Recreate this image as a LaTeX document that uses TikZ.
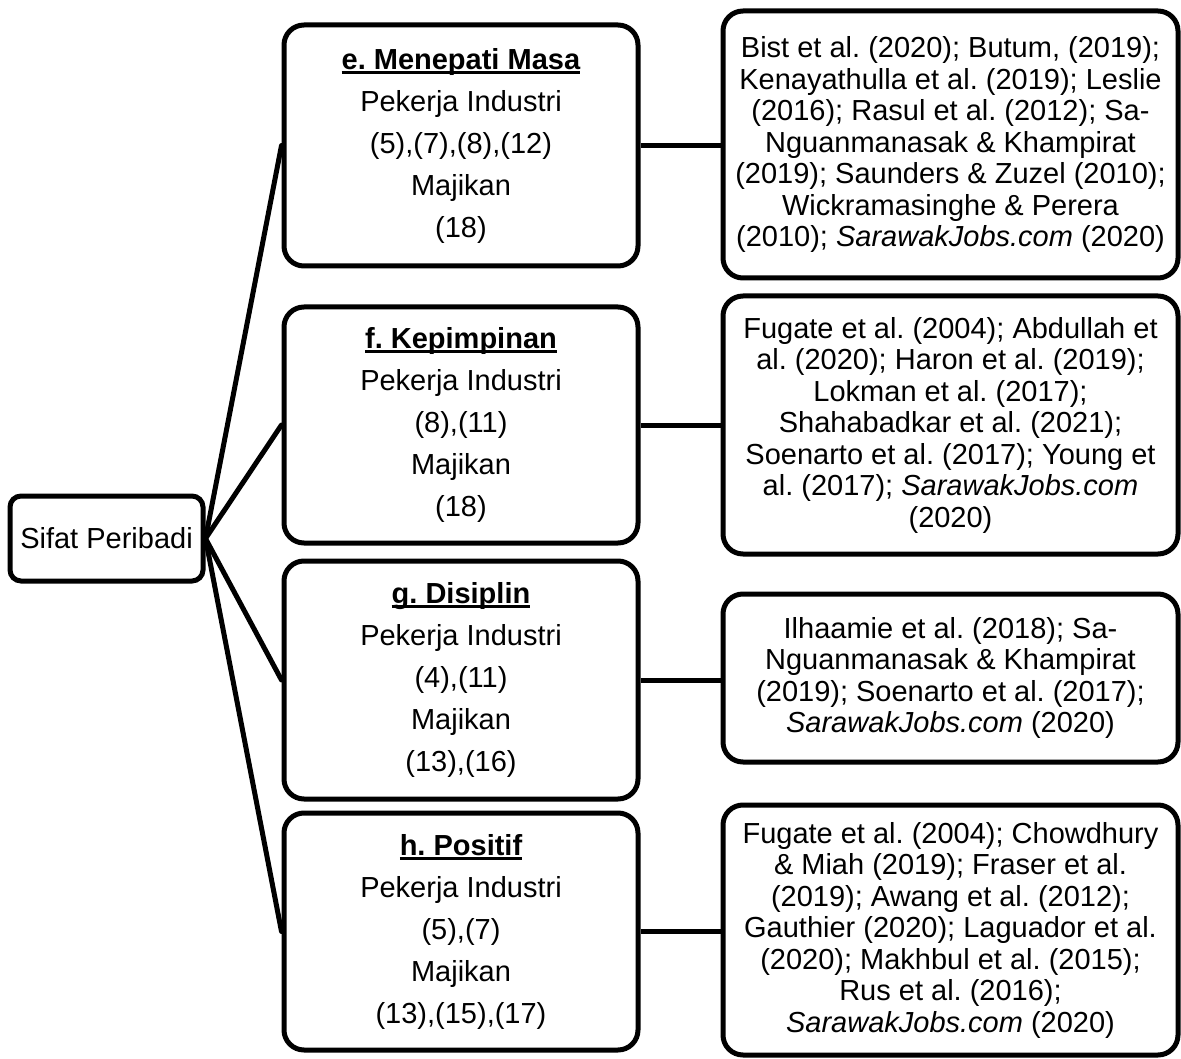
\documentclass[tikz,border=0pt]{standalone}
\usepackage{fontspec}
\setmainfont{Liberation Sans}
\frenchspacing
% bold heading with an underline at a fixed offset below the baseline
\newcommand\headul[1]{\setbox0\hbox{\textbf{#1}}\rlap{\rule[-4.5pt]{\wd0}{2.6pt}}\box0}
\begin{document}
\begin{tikzpicture}[x=1pt,y=-1pt,
  box/.style={draw, line width=5pt, rounded corners=20pt, align=center, inner sep=0pt, fill=white},
  rootbox/.style={box, rounded corners=11pt, font=\fontsize{29}{33}\selectfont},
  midbox/.style={box, minimum width=354pt, font=\fontsize{29}{42}\selectfont},
  refbox/.style={box, minimum width=455pt, font=\fontsize{29}{31.5}\selectfont},
  link/.style={line width=5pt}]
\useasboundingbox (0,0) rectangle (1181,1059);

% root
\node[rootbox, minimum width=193pt, minimum height=85pt] (root) at (106.5,538.5) {Sifat Peribadi};

% attribute boxes
\node[midbox, minimum height=241pt] (me) at (461,145.5) {\headul{e. Menepati Masa}\\Pekerja Industri\\(5),(7),(8),(12)\\Majikan\\(18)};
\node[midbox, minimum height=236pt] (mf) at (461,425) {\headul{f. Kepimpinan}\\Pekerja Industri\\(8),(11)\\Majikan\\(18)};
\node[midbox, minimum height=238pt] (mg) at (461,680) {\headul{g. Disiplin}\\Pekerja Industri\\(4),(11)\\Majikan\\(13),(16)};
\node[midbox, minimum height=237pt] (mh) at (461,931.5) {\headul{h. Positif}\\Pekerja Industri\\(5),(7)\\Majikan\\(13),(15),(17)};

% reference boxes
\node[refbox, minimum height=267pt] (re) at (950.5,144.5) {Bist et al. (2020); Butum, (2019);\\Kenayathulla et al. (2019); Leslie\\(2016); Rasul et al. (2012); Sa-\\Nguanmanasak \& Khampirat\\(2019); Saunders \& Zuzel (2010);\\Wickramasinghe \& Perera\\(2010); \textit{SarawakJobs.com} (2020)};
\node[refbox, minimum height=258pt] (rf) at (950.5,425) {Fugate et al. (2004); Abdullah et\\al. (2020); Haron et al. (2019);\\Lokman et al. (2017);\\Shahabadkar et al. (2021);\\Soenarto et al. (2017); Young et\\al. (2017); \textit{SarawakJobs.com}\\(2020)};
\node[refbox, minimum height=168pt] (rg) at (950.5,678) {Ilhaamie et al. (2018); Sa-\\Nguanmanasak \& Khampirat\\(2019); Soenarto et al. (2017);\\\textit{SarawakJobs.com} (2020)};
\node[refbox, minimum height=250pt] (rh) at (950.5,930) {Fugate et al. (2004); Chowdhury\\\& Miah (2019); Fraser et al.\\(2019); Awang et al. (2012);\\Gauthier (2020); Laguador et al.\\(2020); Makhbul et al. (2015);\\Rus et al. (2016);\\\textit{SarawakJobs.com} (2020)};

% connectors
\foreach \m in {me,mf,mg,mh}
  \draw[link, line cap=round] (root.east) -- (\m.west);
\draw[link] (me.east) -- (me.east -| re.west);
\draw[link] (mf.east) -- (mf.east -| rf.west);
\draw[link] (mg.east) -- (mg.east -| rg.west);
\draw[link] (mh.east) -- (mh.east -| rh.west);
\end{tikzpicture}
\end{document}
